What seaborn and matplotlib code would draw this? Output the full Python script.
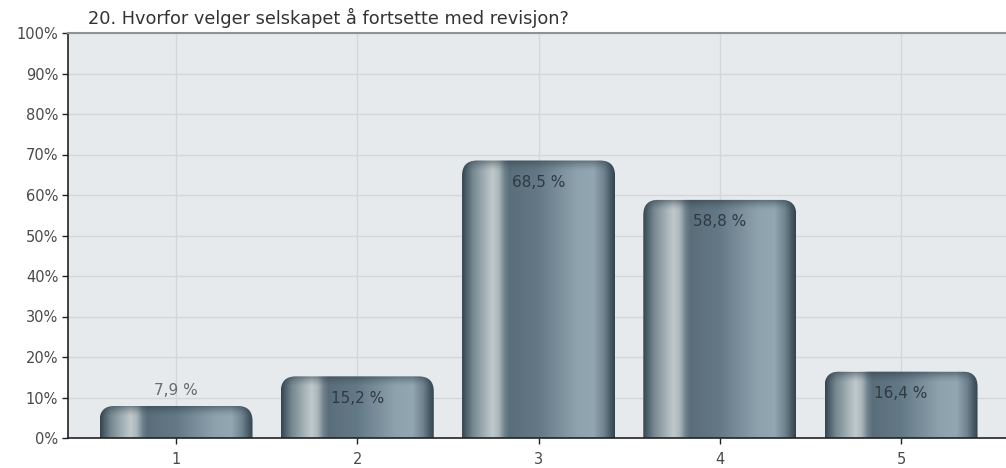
import numpy as np
import pandas as pd
import seaborn as sns
import matplotlib
matplotlib.use("Agg")
import matplotlib.pyplot as plt
from matplotlib.patches import FancyBboxPatch
from matplotlib.colors import to_rgb

# Survey results
title = "20. Hvorfor velger selskapet å fortsette med revisjon?"
categories = ["1", "2", "3", "4", "5"]
values = [7.9, 15.2, 68.5, 58.8, 16.4]
y_ticks = list(range(0, 101, 10))

sns.set_theme(style="white")
plt.rcParams["font.family"] = ["DejaVu Sans"]

W, H = 1006, 468
fig = plt.figure(figsize=(W / 100, H / 100), dpi=100)
ax_left, ax_right, ax_top, ax_bottom = 68, 1006, 33, 438
ax = fig.add_axes([ax_left / W, (H - ax_bottom) / H,
                   (ax_right - ax_left) / W, (ax_bottom - ax_top) / H])

df = pd.DataFrame({"cat": categories, "val": values})
sns.barplot(data=df, x="cat", y="val", ax=ax, width=0.844, color="#5f7380")

XLIM = (-0.596, 4.579)
ax.set_xlim(*XLIM)
ax.set_ylim(0, 100)
ax.set_facecolor("#e7eaed")
ax.set_xlabel("")
ax.set_ylabel("")

# grid
for t in y_ticks[1:]:
    ax.axhline(t, color="#d4d7da", lw=1.0, zorder=0.5)
for i in range(len(categories)):
    ax.axvline(i, color="#d4d7da", lw=1.0, zorder=0.5)

ax.set_yticks(y_ticks)
ax.set_yticklabels([f"{t}%" for t in y_ticks])
ax.tick_params(axis="both", which="both", length=4, width=1, color="#222222",
               labelsize=10.5, labelcolor="#4a4a4a", direction="out",
               left=True, bottom=True)
ax.tick_params(axis="y", pad=3)
ax.tick_params(axis="x", pad=6)

for side in ["left", "bottom"]:
    ax.spines[side].set_color("#222222")
    ax.spines[side].set_linewidth(1.2)
ax.spines["top"].set_color("#8f9294")
ax.spines["top"].set_linewidth(1.5)
ax.spines["right"].set_visible(False)

# horizontal colour profile of the cylindrical bars
stops = [
    (0.00, "#33444e"), (0.03, "#4f626d"), (0.07, "#76878f"),
    (0.14, "#9fadb3"), (0.20, "#c0c9cc"), (0.24, "#aab6bb"),
    (0.28, "#6d808b"), (0.31, "#5a6e7a"), (0.50, "#647986"),
    (0.75, "#8ea2ad"), (0.86, "#93a7b2"), (0.93, "#6f838f"),
    (0.97, "#4a5c67"), (1.00, "#33444e"),
]
xs = np.linspace(0, 1, 400)
pos = [s[0] for s in stops]
cols = np.array([to_rgb(s[1]) for s in stops])
grad = np.stack([np.interp(xs, pos, cols[:, k]) for k in range(3)], axis=-1)

# pixel-to-data conversions
px_x = (XLIM[1] - XLIM[0]) / (ax_right - ax_left)
px_y = 100 / (ax_bottom - ax_top)
radius_px = 15
rx = radius_px * px_x
ry = radius_px * px_y

for patch, v in zip(list(ax.patches), values):
    x0 = patch.get_x()
    w = patch.get_width()
    patch.set_visible(False)
    y_bot = -10
    shape = FancyBboxPatch((x0, y_bot), w, v - y_bot,
                           boxstyle=f"round,pad=0,rounding_size={rx}",
                           mutation_aspect=ry / rx,
                           facecolor="none", edgecolor="none", zorder=2)
    ax.add_patch(shape)
    img = ax.imshow(grad[np.newaxis, :, :], extent=[x0, x0 + w, y_bot, v],
                    aspect="auto", interpolation="bilinear", zorder=2)
    img.set_clip_path(shape)
    # darker rim along the rounded top
    cap_h = 11 * px_y
    nrow = 40
    t = np.linspace(0.0, 1.0, nrow)
    alpha = 0.5 * t ** 1.6
    cap = np.zeros((nrow, 1, 4))
    cap[:, 0, :3] = to_rgb("#2a3a44")
    cap[:, 0, 3] = alpha
    capimg = ax.imshow(cap, extent=[x0, x0 + w, v - cap_h, v], origin="lower",
                       aspect="auto", interpolation="bilinear", zorder=2.1)
    capimg.set_clip_path(shape)

    label = f"{v:.1f}".replace(".", ",") + " %"
    cx = x0 + w / 2
    if v / px_y > 40:
        ax.text(cx, v - 22 * px_y, label, ha="center", va="center",
                fontsize=11, color="#2e3a42", zorder=3)
    else:
        ax.text(cx, v + 16 * px_y, label, ha="center", va="center",
                fontsize=11, color="#6a6a6a", zorder=3)

ax.set_xlim(*XLIM)
ax.set_ylim(0, 100)

fig.text(88 / W, 1 - 18 / H, title, ha="left", va="center",
         fontsize=12.8, color="#333333")

fig.savefig("out.png", dpi=100, facecolor="white")
